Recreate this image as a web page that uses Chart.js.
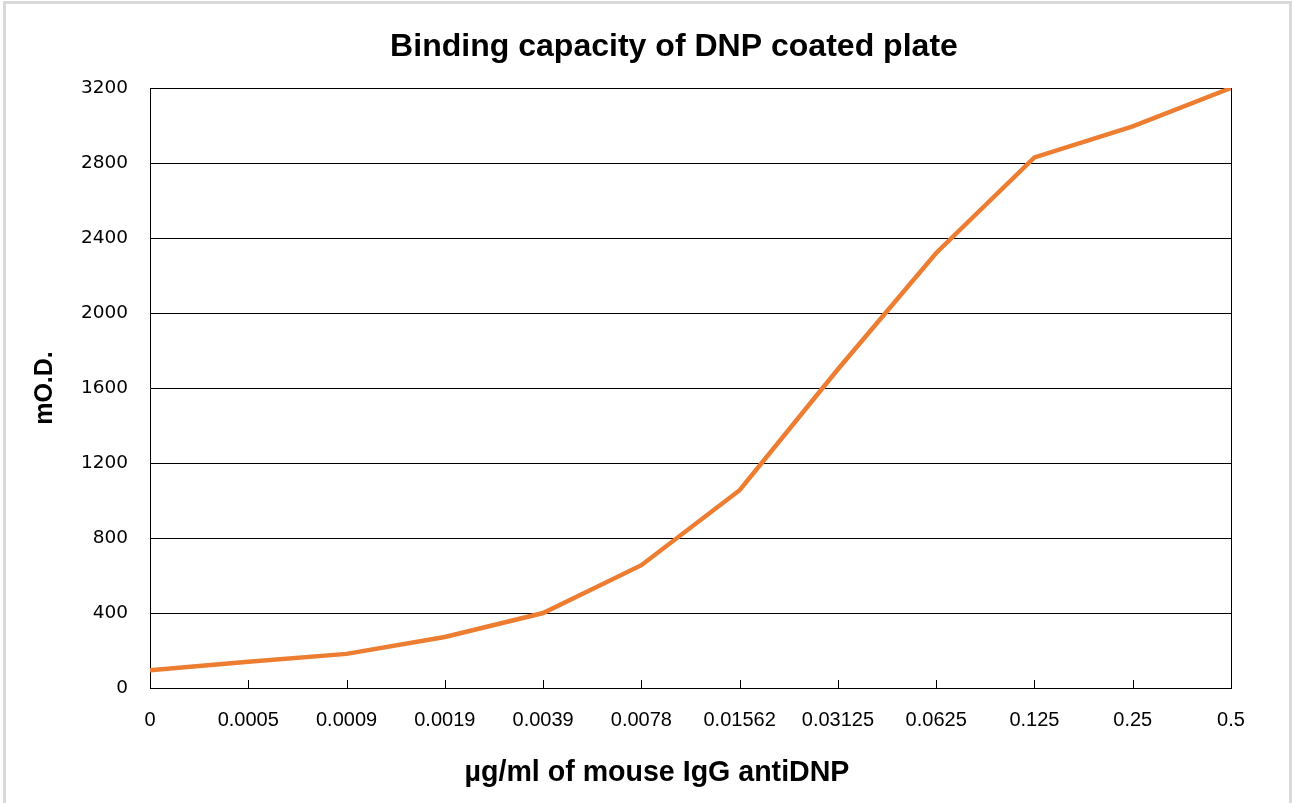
<!DOCTYPE html>
<html>
<head>
<meta charset="utf-8">
<script src="https://cdn.jsdelivr.net/npm/chart.js@4.4.1/dist/chart.umd.min.js"></script>
<style>
  html, body { margin: 0; padding: 0; background: #fff; }
  #wrap { width: 1292px; height: 803px; position: relative; }
</style>
</head>
<body>
<div id="wrap"><canvas id="c" width="1292" height="803"></canvas></div>
<script>
// ---- data ----
const categories = ["0", "0.0005", "0.0009", "0.0019", "0.0039", "0.0078", "0.01562", "0.03125", "0.0625", "0.125", "0.25", "0.5"];
const odValues = [95, 140, 182, 272, 400, 655, 1055, 1700, 2320, 2830, 2995, 3200];
const yTicks = [0, 400, 800, 1200, 1600, 2000, 2400, 2800, 3200];
const chartTitle = "Binding capacity of DNP coated plate";
const xTitle = "µg/ml of mouse IgG antiDNP";
const yTitle = "mO.D.";

// fit font size so text has a given width
function fitSize(text, family, weight, target) {
  const ctx = document.createElement('canvas').getContext('2d');
  ctx.font = weight + ' 100px ' + family;
  return 100 * target / ctx.measureText(text).width;
}
const titleFam = '"Liberation Sans", Arial, sans-serif';
const titleSize = fitSize(chartTitle, titleFam, 'bold', 568);
const xTitleSize = fitSize(xTitle, titleFam, 'bold', 385);

const frame = {
  id: 'frame',
  beforeDraw(chart) {
    const ctx = chart.ctx;
    ctx.save();
    ctx.fillStyle = '#d9d9d9';
    ctx.fillRect(3, 1, 3, 802);
    ctx.fillRect(3, 1, 1289, 3);
    ctx.fillRect(1289, 1, 3, 802);
    ctx.restore();
  },
  afterDatasetsDraw(chart) {
    const ctx = chart.ctx, a = chart.chartArea, xs = chart.scales.x;
    ctx.save();
    ctx.strokeStyle = '#000';
    ctx.lineWidth = 1;
    ctx.beginPath();
    for (let i = 1; i < categories.length - 1; i++) {
      const x = Math.round(xs.getPixelForTick(i)) + 0.5;
      ctx.moveTo(x, a.bottom);
      ctx.lineTo(x, a.bottom - 8);
    }
    const r = Math.round(a.right) + 0.5;
    ctx.moveTo(r, a.top);
    ctx.lineTo(r, a.bottom);
    ctx.stroke();
    // titles
    ctx.fillStyle = '#000';
    ctx.textAlign = 'center';
    ctx.textBaseline = 'middle';
    ctx.font = 'bold ' + titleSize + 'px ' + titleFam;
    ctx.fillText(chartTitle, 674, 47);
    ctx.font = 'bold ' + xTitleSize + 'px ' + titleFam;
    ctx.fillText(xTitle, 657, 773);
    ctx.restore();
  }
};

new Chart(document.getElementById('c'), {
  type: 'line',
  data: {
    labels: categories,
    datasets: [{
      label: yTitle,
      data: odValues,
      borderColor: '#ED7D31',
      backgroundColor: '#ED7D31',
      borderWidth: 4.5,
      pointRadius: 0,
      tension: 0,
      fill: false
    }]
  },
  options: {
    responsive: false,
    animation: false,
    devicePixelRatio: 1,
    layout: { padding: { left: 0, right: 61, top: 88, bottom: 0 } },
    plugins: {
      legend: { display: false },
      tooltip: { enabled: false },
      title: { display: false }
    },
    scales: {
      x: {
        type: 'category',
        offset: false,
        grid: { display: false, drawTicks: false },
        border: { display: true, color: '#000', width: 1 },
        ticks: {
          color: '#000',
          padding: 20,
          maxRotation: 0,
          autoSkip: false,
          font: { family: '"Liberation Sans Narrow", "Liberation Sans", sans-serif', size: 20 }
        },
        afterFit(s) { s.height = 115; }
      },
      y: {
        min: 0,
        max: 3200,
        afterBuildTicks(s) { s.ticks = yTicks.map(v => ({ value: v })); },
        grid: { color: '#000', lineWidth: 1, drawTicks: false },
        border: { display: true, color: '#000', width: 1 },
        ticks: {
          color: '#000',
          padding: 22,
          callback: v => String(v),
          font: { family: '"DejaVu Sans", sans-serif', size: 18.5 }
        },
        title: {
          display: true,
          text: yTitle,
          color: '#000',
          font: { family: titleFam, weight: 'bold', size: 25, lineHeight: 1.2 },
          padding: { top: 30, bottom: 0 }
        },
        afterFit(s) { s.width = 150; }
      }
    }
  },
  plugins: [frame]
});
</script>
</body>
</html>
